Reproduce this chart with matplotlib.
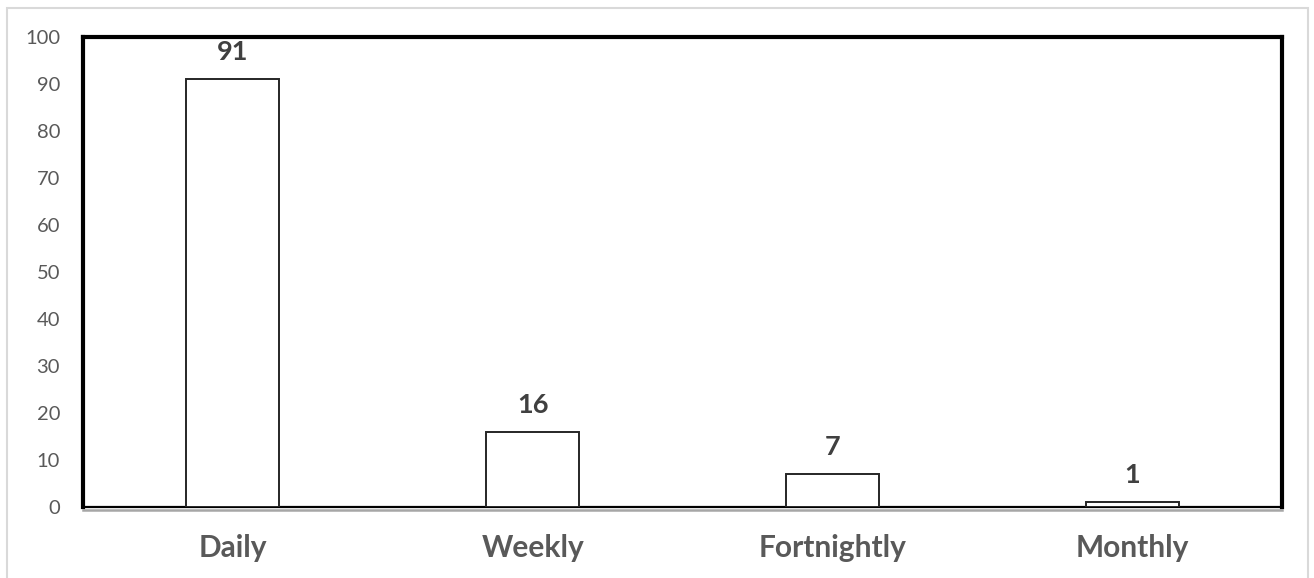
import matplotlib
matplotlib.use("Agg")
import matplotlib.pyplot as plt
from matplotlib.patches import Rectangle
from matplotlib.lines import Line2D

categories = ["Daily", "Weekly", "Fortnightly", "Monthly"]
values = [91, 16, 7, 1]
yticks = [0, 10, 20, 30, 40, 50, 60, 70, 80, 90, 100]

plt.rcParams["font.family"] = ["Lato", "DejaVu Sans"]

W, H = 1314, 578
fig = plt.figure(figsize=(W / 100, H / 100), dpi=100)

# outer chart border
fig.patches.append(Rectangle((7 / W, -0.01), (1308 - 7) / W, (H - 8) / H + 0.01,
                             transform=fig.transFigure, fill=False,
                             edgecolor="#d9d9d9", linewidth=1.5))

left, right, top, bottom = 83, 1282, 37, 507
ax = fig.add_axes([left / W, 1 - bottom / H, (right - left) / W, (bottom - top) / H])

x = range(len(categories))
ax.bar(x, values, width=0.31, facecolor="white", edgecolor="#262626", linewidth=1.4, zorder=3)

for xi, v in zip(x, values):
    ax.annotate(str(v), (xi, v), xytext=(0, 11), textcoords="offset points",
                ha="center", va="bottom", fontsize=19.5, fontweight="bold", color="#404040")

ax.set_xlim(-0.5, 3.5)
ax.set_ylim(0, 100)
ax.set_yticks(yticks)
ax.set_xticks(list(x))
ax.set_xticklabels(categories, fontsize=21.5, fontweight="bold", color="#595959")
ax.tick_params(axis="y", labelsize=14.5, labelcolor="#595959", length=0, pad=16.5)
ax.tick_params(axis="x", length=0, pad=19.5)

for side in ["left", "top", "right"]:
    ax.spines[side].set_linewidth(3)
    ax.spines[side].set_color("black")
ax.spines["bottom"].set_linewidth(1.6)
ax.spines["bottom"].set_color("black")

# grey line under the baseline
ax.add_line(Line2D([0, 1], [-0.006, -0.006], transform=ax.transAxes,
                   color="#a6a6a6", linewidth=1.8, clip_on=False))

fig.savefig("out.png", dpi=100)
